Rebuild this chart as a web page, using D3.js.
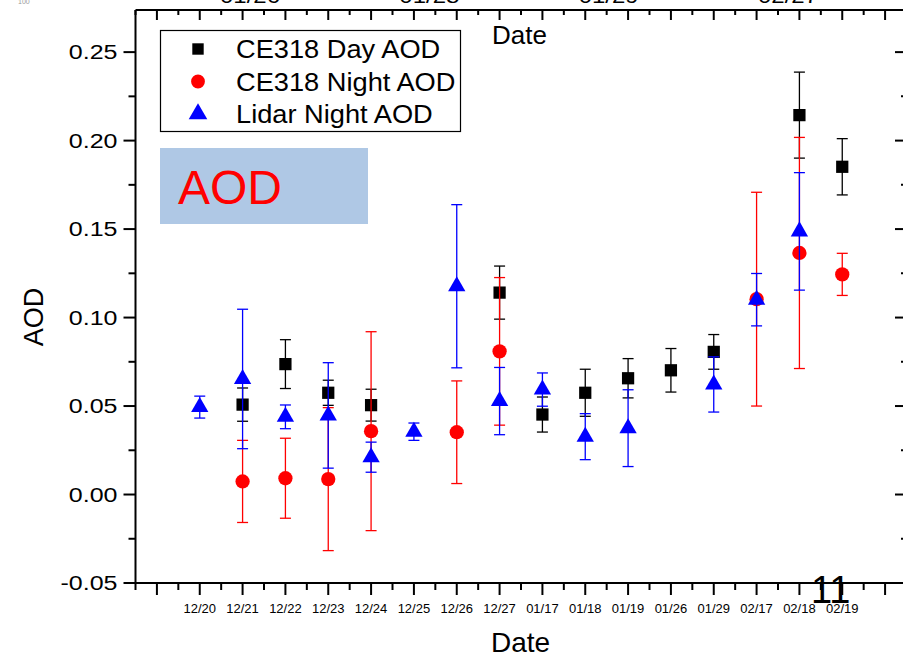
<!DOCTYPE html>
<html>
<head>
<meta charset="utf-8">
<script src="https://cdn.jsdelivr.net/npm/d3@7"></script>
<style>
  body { margin: 0; background: #fff; }
  svg { display: block; font-family: "Liberation Sans", Arial, sans-serif; }
</style>
</head>
<body>
<div class="chart"></div>
<script>
// categories on the bottom axis
const dates = ["12/20", "12/21", "12/22", "12/23", "12/24", "12/25", "12/26", "12/27",
               "01/17", "01/18", "01/19", "01/26", "01/29", "02/17", "02/18", "02/19"];

// CE318 day AOD and its error
const dayAOD = [null, 0.0508, 0.0737, 0.0575, 0.0505, null, null, 0.1141,
                0.0452, 0.0575, 0.0657, 0.0702, 0.0806, null, 0.2144, 0.1852];
const dayErr = [null, 0.0094, 0.0138, 0.0071, 0.0090, null, null, 0.0150,
                0.0099, 0.0133, 0.0111, 0.0123, 0.0098, null, 0.0243, 0.0159];

// CE318 night AOD and its error
const nightAOD = [null, 0.0074, 0.0092, 0.0087, 0.0358, null, 0.0352, 0.0809,
                  null, null, null, null, null, 0.1104, 0.1365, 0.1244];
const nightErr = [null, 0.0232, 0.0226, 0.0404, 0.0562, null, 0.0290, 0.0417,
                  null, null, null, null, null, 0.0604, 0.0653, 0.0119];

// Lidar night AOD and its error
const lidarAOD = [0.0494, 0.0653, 0.0439, 0.0447, 0.0211, 0.0355, 0.1177, 0.0528,
                  0.0593, 0.0327, 0.0375, null, 0.0622, 0.1101, 0.1487, null];
const lidarErr = [0.0062, 0.0394, 0.0067, 0.0298, 0.0085, 0.0049, 0.0461, 0.0190,
                  0.0094, 0.0130, 0.0217, null, 0.0156, 0.0148, 0.0332, null];

// y ticks, and the clipped labels left over on the top edge
const yTicks = [-0.05, 0.00, 0.05, 0.10, 0.15, 0.20, 0.25];
const topLabels = ["01/26", "01/28", "01/29", "02/27"];

const seriesNames = ["CE318 Day AOD", "CE318 Night AOD", "Lidar Night AOD"];
const seriesColors = ["#000000", "#ff0000", "#0000ff"];

const width = 903, height = 652;

const svg = d3.select(".chart")
    .append("svg")
    .attr("width", width)
    .attr("height", height);

// scales
const x = d3.scaleLinear().domain([-0.5, 17.5]).range([135.5, 906.5]);
const y = d3.scaleLinear().domain([-0.05, 0.2738]).range([583, 10]);

const symbols = [d3.symbolSquare, d3.symbolCircle, d3.symbolTriangle];
const symbolSizes = [150, 160, 130];

// the source figure was stretched sideways, so some text is widened
const wide = (sx) => (d) => "scale(" + sx + ",1)";

// bottom axis: majors at categories, minors halfway
const majorX = d3.range(0, 18);
const minorX = d3.range(-0.5, 17.6, 1);

const axisBottomG = svg.append("g").attr("transform", "translate(0,583)");
axisBottomG.append("line").attr("x1", 135.5).attr("x2", width).attr("stroke", "#000").attr("stroke-width", 2);
axisBottomG.call(g => g.selectAll(".maj").data(majorX).enter().append("line")
    .attr("x1", d => x(d)).attr("x2", d => x(d)).attr("y1", 0).attr("y2", 12)
    .attr("stroke", "#000").attr("stroke-width", 2));
axisBottomG.call(g => g.selectAll(".min").data(minorX).enter().append("line")
    .attr("x1", d => x(d)).attr("x2", d => x(d)).attr("y1", 0).attr("y2", 7)
    .attr("stroke", "#000").attr("stroke-width", 2));
axisBottomG.selectAll(".lab").data(dates).enter().append("text")
    .attr("x", (d, i) => x(i + 1))
    .attr("y", 30)
    .attr("text-anchor", "middle")
    .attr("font-size", 13)
    .text(d => d);

// top axis: same ticks, pointing in
const axisTopG = svg.append("g").attr("transform", "translate(0,10)");
axisTopG.append("line").attr("x1", 135.5).attr("x2", width).attr("stroke", "#000").attr("stroke-width", 2);
axisTopG.call(g => g.selectAll(".maj").data(majorX).enter().append("line")
    .attr("x1", d => x(d)).attr("x2", d => x(d)).attr("y1", 0).attr("y2", 10)
    .attr("stroke", "#000").attr("stroke-width", 2));
axisTopG.call(g => g.selectAll(".min").data(minorX).enter().append("line")
    .attr("x1", d => x(d)).attr("x2", d => x(d)).attr("y1", 0).attr("y2", 5)
    .attr("stroke", "#000").attr("stroke-width", 2));

const topScale = d3.scalePoint().domain(topLabels).range([250, 788]);
svg.selectAll(".toplab").data(topLabels).enter().append("g")
    .attr("transform", d => "translate(" + topScale(d) + ",3)")
    .append("text")
    .attr("transform", wide(1.2))
    .attr("text-anchor", "middle")
    .attr("font-size", 20)
    .text(d => d);

// left axis
const yMinor = d3.range(-0.025, 0.27, 0.05);
const axisLeftG = svg.append("g").attr("transform", "translate(135.5,0)");
axisLeftG.append("line").attr("y1", 10).attr("y2", 584).attr("stroke", "#000").attr("stroke-width", 2);
axisLeftG.call(g => g.selectAll(".maj").data(yTicks).enter().append("line")
    .attr("y1", d => y(d)).attr("y2", d => y(d)).attr("x1", 0).attr("x2", -12)
    .attr("stroke", "#000").attr("stroke-width", 2));
axisLeftG.call(g => g.selectAll(".min").data(yMinor).enter().append("line")
    .attr("y1", d => y(d)).attr("y2", d => y(d)).attr("x1", 0).attr("x2", -7)
    .attr("stroke", "#000").attr("stroke-width", 2));
axisLeftG.selectAll(".lab").data(yTicks).enter().append("g")
    .attr("transform", d => "translate(-18," + y(d) + ")")
    .append("text")
    .attr("transform", wide(1.25))
    .attr("dy", "0.36em")
    .attr("text-anchor", "end")
    .attr("font-size", 20)
    .text(d => d3.format(".2f")(d).replace("\u2212", "-"));

// right axis sits just past the edge, ticks pointing in
const axisRightG = svg.append("g").attr("transform", "translate(906,0)");
axisRightG.append("line").attr("y1", 10).attr("y2", 583).attr("stroke", "#000").attr("stroke-width", 2);
axisRightG.call(g => g.selectAll(".maj").data(yTicks).enter().append("line")
    .attr("y1", d => y(d)).attr("y2", d => y(d)).attr("x1", 0).attr("x2", -11)
    .attr("stroke", "#000").attr("stroke-width", 2));
axisRightG.call(g => g.selectAll(".min").data(yMinor).enter().append("line")
    .attr("y1", d => y(d)).attr("y2", d => y(d)).attr("x1", 0).attr("x2", -5)
    .attr("stroke", "#000").attr("stroke-width", 2));

// axis titles and stray text
svg.append("text")
    .attr("transform", "translate(43,317) rotate(-90)")
    .attr("text-anchor", "middle")
    .attr("font-size", 27)
    .text("AOD");
svg.append("text").attr("x", 492).attr("y", 44).attr("font-size", 26).text("Date");
svg.append("text").attr("x", 491).attr("y", 652).attr("font-size", 28).text("Date");
svg.append("text").attr("x", 811).attr("y", 603).attr("font-size", 38).text("11");
svg.append("text").attr("x", 18).attr("y", 4).attr("font-size", 7).attr("fill", "#999").text("100");

// error bars then markers, series by series
const series = [
    { vals: dayAOD, errs: dayErr },
    { vals: nightAOD, errs: nightErr },
    { vals: lidarAOD, errs: lidarErr }
];

series.forEach((s, k) => {
    const pts = s.vals.map((v, i) => ({ i: i + 1, v: v, e: s.errs[i] })).filter(d => d.v !== null);
    const g = svg.append("g");
    const col = seriesColors[k];

    g.selectAll(".bar").data(pts).enter().append("line")
        .attr("x1", d => x(d.i)).attr("x2", d => x(d.i))
        .attr("y1", d => y(d.v - d.e)).attr("y2", d => y(d.v + d.e))
        .attr("stroke", col).attr("stroke-width", 1.3);
    g.selectAll(".capHi").data(pts).enter().append("line")
        .attr("x1", d => x(d.i) - 5.5).attr("x2", d => x(d.i) + 5.5)
        .attr("y1", d => y(d.v + d.e)).attr("y2", d => y(d.v + d.e))
        .attr("stroke", col).attr("stroke-width", 1.3);
    g.selectAll(".capLo").data(pts).enter().append("line")
        .attr("x1", d => x(d.i) - 5.5).attr("x2", d => x(d.i) + 5.5)
        .attr("y1", d => y(d.v - d.e)).attr("y2", d => y(d.v - d.e))
        .attr("stroke", col).attr("stroke-width", 1.3);

    g.selectAll(".mark").data(pts).enter().append("path")
        .attr("d", d3.symbol().type(symbols[k]).size(symbolSizes[k]))
        .attr("transform", d => "translate(" + x(d.i) + "," + y(d.v) + ")")
        .attr("fill", col);
});

// legend
const legend = svg.append("g");
legend.append("rect")
    .attr("x", 160.5).attr("y", 30.5).attr("width", 300).attr("height", 101)
    .attr("fill", "#fff").attr("stroke", "#000").attr("stroke-width", 1.2);
const legendRows = d3.scaleLinear().domain([0, 2]).range([49, 114]);
seriesNames.forEach((name, k) => {
    legend.append("path")
        .attr("d", d3.symbol().type(symbols[k]).size([130, 150, 150][k]))
        .attr("transform", "translate(198," + legendRows(k) + ")")
        .attr("fill", seriesColors[k]);
    legend.append("g")
        .attr("transform", "translate(236," + (legendRows(k) + 9) + ")")
        .append("text")
        .attr("transform", wide(1.09))
        .attr("font-size", 25)
        .text(name);
});

// the blue "AOD" label box
svg.append("rect")
    .attr("x", 160).attr("y", 148).attr("width", 208).attr("height", 76)
    .attr("fill", "#afc8e5");
svg.append("text")
    .attr("x", 178).attr("y", 204)
    .attr("font-size", 48)
    .attr("fill", "#ff0000")
    .text("AOD");
</script>
</body>
</html>
